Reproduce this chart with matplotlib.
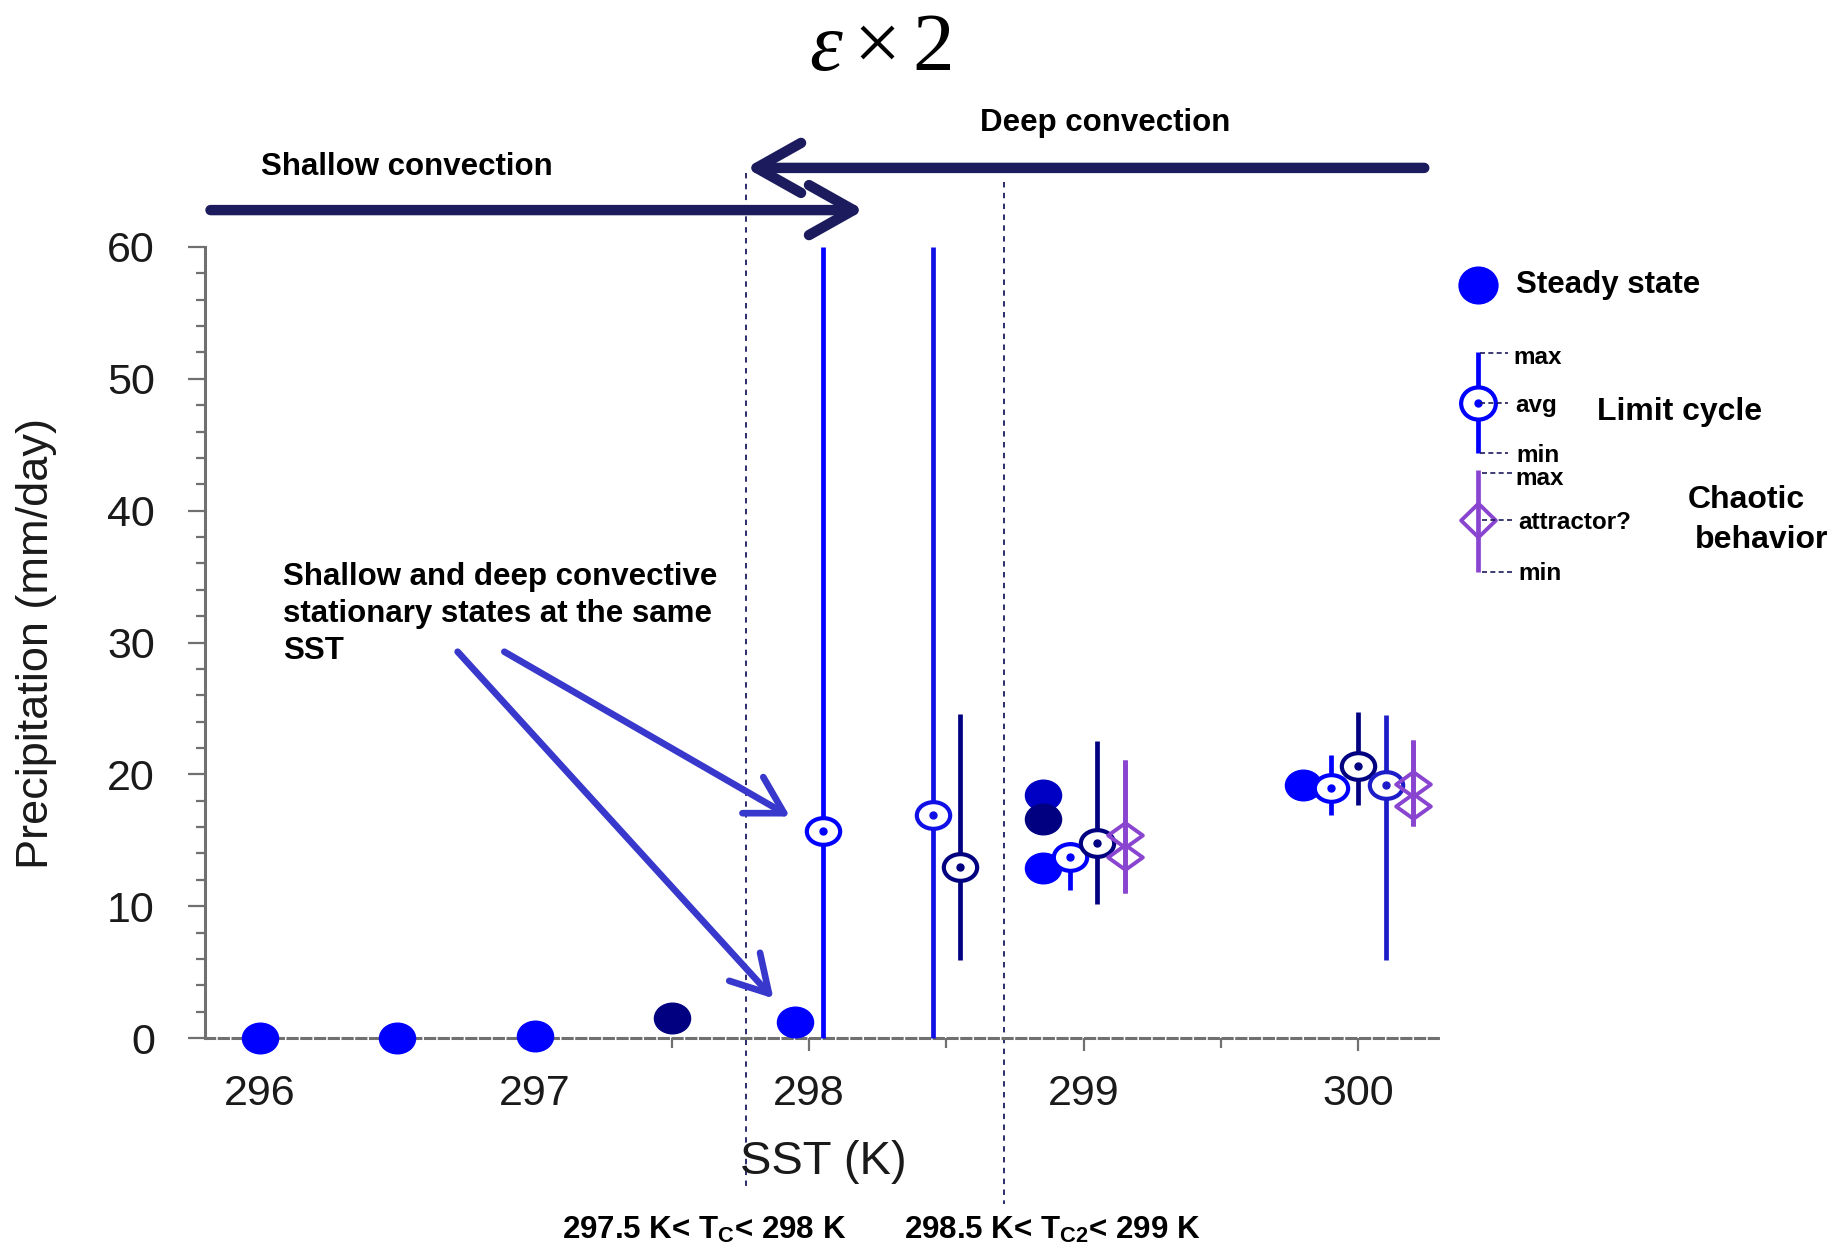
import numpy as np
import matplotlib
matplotlib.use('Agg')
import matplotlib.pyplot as plt
from matplotlib.path import Path
from matplotlib.transforms import Affine2D

plt.rcParams['font.family'] = ['Liberation Sans', 'DejaVu Sans']
plt.rcParams['mathtext.fontset'] = 'custom'
plt.rcParams['mathtext.rm'] = 'Liberation Serif'
plt.rcParams['mathtext.it'] = 'Liberation Serif:italic'
plt.rcParams['mathtext.bf'] = 'Liberation Sans:bold'

# --- data ---
# steady states
steady_x = [296.0, 296.5, 297.0, 297.5, 297.95, 298.85, 298.85, 298.85, 299.8]
steady_y = [0.0, 0.0, 0.15, 1.5, 1.2, 18.4, 16.6, 12.9, 19.2]
steady_c = ['#0000ff', '#0000ff', '#0000ff', '#000080', '#0000ff',
            '#0000c4', '#000080', '#0000ff', '#0000ff']

# limit cycles (avg, min, max)
lc_x = [298.05, 298.45, 298.55, 298.95, 299.05, 299.9, 300.0, 300.1]
lc_avg = [15.7, 16.9, 13.0, 13.7, 14.8, 19.0, 20.6, 19.2]
lc_min = [0.0, 0.0, 5.9, 11.2, 10.2, 16.9, 17.7, 5.9]
lc_max = [60.0, 60.0, 24.6, 14.9, 22.5, 21.5, 24.7, 24.5]
lc_c = ['#0000ff', '#1010e6', '#000080', '#0000ff', '#000080',
        '#0000ff', '#000080', '#1c1cc8']

# chaotic behaviour (attractor?)
ch_x = [299.15, 299.15, 300.2, 300.2]
ch_y = [15.4, 13.7, 19.3, 17.6]
ch_min = [11.0, 11.0, 16.1, 16.1]
ch_max = [21.1, 21.1, 22.6, 22.6]
ch_c = '#8a45d0'

xticks = [296, 297, 298, 299, 300]
yticks = [0, 10, 20, 30, 40, 50, 60]

W, H = 1833, 1249
NAVY = '#1b1b5e'
ANN = '#3838cc'
GREY = '#707070'


def ellipse(ax_ratio):
    return Path.unit_circle().transformed(Affine2D().scale(ax_ratio, 1.0))


def diamond(ax_ratio):
    v = [(0, 1), (ax_ratio, 0), (0, -1), (-ax_ratio, 0), (0, 1)]
    return Path(v, [Path.MOVETO, Path.LINETO, Path.LINETO, Path.LINETO, Path.CLOSEPOLY])


fig = plt.figure(figsize=(W / 100, H / 100), dpi=100)
ax = fig.add_axes([205 / W, 1 - 1038 / H, (1438 - 205) / W, (1038 - 247) / H])

# steady states
for x, y, c in zip(steady_x, steady_y, steady_c):
    ax.plot(x, y, marker=ellipse(1.18), ms=26, color=c, mec=c, ls='none',
            clip_on=False, zorder=3)

# limit cycles
for x, a, lo, hi, c in zip(lc_x, lc_avg, lc_min, lc_max, lc_c):
    ax.plot([x, x], [lo, hi], color=c, lw=3.4, solid_capstyle='butt',
            clip_on=False, zorder=4)
    ax.plot(x, a, marker=ellipse(1.25), ms=24, mfc='white', mec=c, mew=3.0,
            ls='none', clip_on=False, zorder=5)
    ax.plot(x, a, marker='o', ms=5, color=c, ls='none', zorder=6)

# chaotic
for x, y, lo, hi in zip(ch_x, ch_y, ch_min, ch_max):
    ax.plot([x, x], [lo, hi], color=ch_c, lw=3.4, solid_capstyle='butt', zorder=4)
    ax.plot(x, y, marker=diamond(1.4), ms=25, mfc='none', mec=ch_c, mew=2.8,
            ls='none', zorder=5)

ax.set_xlim(295.8, 300.29)
ax.set_ylim(0, 60)
ax.set_xticks(xticks)
ax.set_xticks(np.arange(296.5, 300.1, 1.0), minor=True)
ax.set_yticks(yticks)
ax.set_yticks(np.arange(0, 61, 2), minor=True)
ax.tick_params(axis='x', which='major', length=9, width=1.6, color=GREY,
               labelsize=31, pad=17, labelcolor='#1a1a1a')
ax.tick_params(axis='x', which='minor', length=7, width=1.6, color=GREY)
ax.tick_params(axis='y', which='major', length=12, width=1.6, color=GREY,
               labelsize=31, pad=24, labelcolor='#1a1a1a')
ax.tick_params(axis='y', which='minor', length=6.5, width=1.6, color=GREY)
for s in ['top', 'right']:
    ax.spines[s].set_visible(False)
ax.spines['left'].set_color(GREY)
ax.spines['left'].set_linewidth(2.2)
ax.spines['bottom'].set_color(GREY)
ax.spines['bottom'].set_linewidth(2.2)
ax.spines['bottom'].set_linestyle((0, (3, 1.5)))

# regime boundaries
ax.plot([297.77, 297.77], [65.6, -11.3], color=NAVY, lw=1.3, ls=(0, (3, 3)),
        clip_on=False, zorder=2)
ax.plot([298.71, 298.71], [64.9, -12.6], color=NAVY, lw=1.3, ls=(0, (3, 3)),
        clip_on=False, zorder=2)

# convection regime arrows
ax.annotate('', xy=(298.20, 62.8), xytext=(295.82, 62.8), annotation_clip=False,
            arrowprops=dict(arrowstyle='->,head_length=32,head_width=18', mutation_scale=1,
                            lw=7.5, color=NAVY, shrinkA=0, shrinkB=0))
ax.annotate('', xy=(297.77, 66.0), xytext=(300.24, 66.0), annotation_clip=False,
            arrowprops=dict(arrowstyle='->,head_length=32,head_width=18', mutation_scale=1,
                            lw=7.5, color=NAVY, shrinkA=0, shrinkB=0))

# pointer arrows
ax.annotate('', xy=(297.93, 16.8), xytext=(296.89, 29.3), annotation_clip=False,
            arrowprops=dict(arrowstyle='->,head_length=26,head_width=15', mutation_scale=1,
                            lw=4.8, color=ANN, shrinkA=0, shrinkB=0))
ax.annotate('', xy=(297.87, 3.0), xytext=(296.72, 29.3), annotation_clip=False,
            arrowprops=dict(arrowstyle='->,head_length=26,head_width=15', mutation_scale=1,
                            lw=4.8, color=ANN, shrinkA=0, shrinkB=0))

# overlay in pixel coordinates for text and legend
ov = fig.add_axes([0, 0, 1, 1], zorder=10)
ov.set_xlim(0, W)
ov.set_ylim(H, 0)
ov.set_axis_off()

ov.text(880, 70, r'$\varepsilon\times2$', fontsize=60, ha='center', va='baseline')
ov.text(1105, 123, 'Deep convection', fontsize=22.5, weight='bold', ha='center', va='center')
ov.text(407, 167, 'Shallow convection', fontsize=22.5, weight='bold', ha='center', va='center')
ov.text(283, 562, 'Shallow and deep convective\nstationary states at the same\nSST',
        fontsize=22.5, weight='bold', ha='left', va='top', linespacing=1.3)
ov.text(823, 1162, 'SST (K)', fontsize=34, ha='center', va='center', color='#1a1a1a')
ov.text(37, 643, 'Precipitation (mm/day)', fontsize=32.5, ha='center', va='center',
        rotation=90, color='#1a1a1a')
ov.text(704, 1230, r'297.5 K< T$_{\mathbf{C}}$< 298 K', fontsize=22.5, weight='bold',
        ha='center', va='center')
ov.text(1052, 1230, r'298.5 K< T$_{\mathbf{C2}}$< 299 K', fontsize=22.5, weight='bold',
        ha='center', va='center')

# legend: steady state
ov.plot(1478, 285, marker=ellipse(1.06), ms=28, color='#0000ff', ls='none')
ov.text(1516, 285, 'Steady state', fontsize=22.5, weight='bold', va='center')

# legend: limit cycle
ov.plot([1478, 1478], [352, 453], color='#0000ff', lw=3.4, solid_capstyle='butt')
ov.plot(1478, 403, marker=ellipse(1.08), ms=25, mfc='white', mec='#0000ff', mew=3.0, ls='none')
ov.plot(1478, 403, marker='o', ms=5, color='#0000ff', ls='none')
for yy in [353, 403, 453]:
    ov.plot([1480, 1508], [yy, yy], color=NAVY, lw=1.2, ls=(0, (3, 2)))
ov.text(1513, 357, 'max', fontsize=17.5, weight='bold', va='center')
ov.text(1515, 405, 'avg', fontsize=17.5, weight='bold', va='center')
ov.text(1516, 455, 'min', fontsize=17.5, weight='bold', va='center')
ov.text(1597, 412, 'Limit cycle', fontsize=23, weight='bold', va='center')

# legend: chaotic
ov.plot([1478, 1478], [470, 572], color=ch_c, lw=3.4, solid_capstyle='butt')
ov.plot(1478, 520, marker=diamond(1.03), ms=25, mfc='none', mec=ch_c, mew=2.8, ls='none')
for yy in [473, 520, 572]:
    ov.plot([1482, 1512], [yy, yy], color=NAVY, lw=1.2, ls=(0, (3, 2)))
ov.text(1515, 478, 'max', fontsize=17.5, weight='bold', va='center')
ov.text(1518, 522, 'attractor?', fontsize=17.5, weight='bold', va='center')
ov.text(1518, 573, 'min', fontsize=17.5, weight='bold', va='center')
ov.text(1746, 500, 'Chaotic', fontsize=23, weight='bold', ha='center', va='center')
ov.text(1762, 540, 'behavior', fontsize=23, weight='bold', ha='center', va='center')

fig.savefig('out.png', dpi=100)
